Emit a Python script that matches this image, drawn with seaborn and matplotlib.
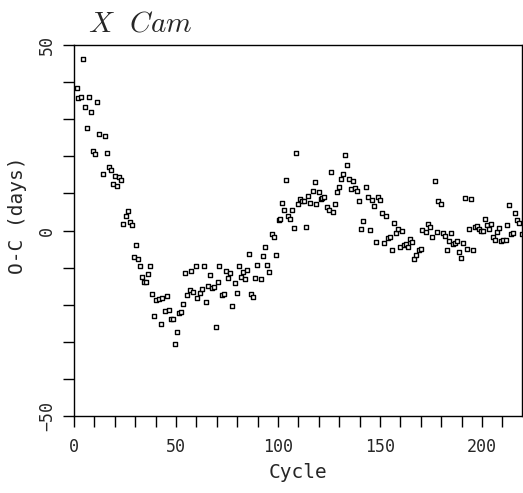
import numpy as np
import matplotlib
matplotlib.use('Agg')
import matplotlib.pyplot as plt
import seaborn as sns
from matplotlib.ticker import MultipleLocator

# O-C values
cycle = [1.3, 2.1, 3.4, 4.6, 5.2, 6.4, 7.5, 8.3, 9.3, 10.3, 11.4, 12.3, 14.2, 15.3, 16.3,
         17.3, 18.3, 19.3, 20.3, 21.2, 22.2, 23.2, 24.2, 25.3, 26.5, 27.5, 28.4,
         29.4, 30.4, 31.4, 32.4, 33.3, 34.3, 35.4, 36.3, 37.4, 38.4, 39.4, 40.3, 41.5,
         42.5, 43.3, 44.6, 45.4, 46.4, 47.5, 48.7, 49.4, 50.3, 51.5, 52.3, 53.6, 54.6,
         55.5, 56.7, 57.5, 58.5, 59.6, 60.4, 61.8, 62.7, 63.7, 64.7, 65.7, 66.6, 67.6,
         68.5, 69.6, 70.6, 70.9,
         72.4, 73.5, 74.7, 75.6, 76.6, 77.6, 78.8, 79.8, 80.7, 81.7, 82.7, 83.7, 84.6,
         85.6, 86.8, 87.6, 88.7, 89.9, 91.8, 92.8, 93.8, 94.8, 95.7, 96.9, 97.9, 98.9,
         100.3, 101.0, 101.8, 102.9, 104.1, 104.9, 105.9, 106.9, 108.0, 109.0, 109.9,
         110.9, 111.9, 112.9, 113.9, 114.9, 115.8, 117.0, 118.0, 118.8, 119.9, 120.9,
         121.7, 122.7, 123.9, 124.9, 126.0, 126.8, 127.9, 128.8, 129.9, 131.0, 131.9,
         133.0, 134.0, 134.9, 135.8, 136.9, 137.7, 138.6, 139.6,
         140.8, 141.7, 143.0, 144.1, 144.9, 146.1, 146.9, 147.9, 148.9, 150.0, 150.8,
         151.8, 152.9, 154.1, 154.9, 155.9, 156.9, 157.7, 158.8, 159.8, 160.8, 161.8,
         162.7, 163.7, 164.7, 165.7, 166.7, 167.8, 169.0, 170.0, 170.8, 172.7, 173.7,
         174.7, 175.6, 176.8, 177.8, 178.4, 179.7, 180.7, 181.7, 182.7, 183.7, 184.7,
         185.6, 186.6, 187.6, 188.6, 189.6, 190.5, 191.7, 192.5, 193.5, 194.6, 195.4,
         196.7, 197.5, 198.7, 199.7, 200.6, 201.5, 202.5, 203.3, 204.4, 205.2, 206.4,
         207.2, 208.3, 209.5, 210.5, 211.6, 212.3, 213.4, 214.2, 215.3, 216.3, 217.3,
         218.3, 219.5]
oc = [38.5, 35.6, 36.0, 46.2, 33.4, 27.5, 35.9, 32.0, 21.3, 20.5, 34.7, 25.9, 15.3, 25.6, 20.8,
      17.1, 16.3, 12.5, 14.8, 12.1, 14.3, 13.5, 1.8, 3.9, 5.2, 2.3, 1.6,
      -7.1, -3.8, -7.8, -9.6, -12.4, -14.0, -13.9, -11.6, -9.5, -17.1, -23.0, -18.7, -18.5,
      -25.3, -18.1, -21.7, -17.7, -21.3, -23.9, -23.8, -30.6, -27.4, -22.2, -22.0, -19.8, -11.5,
      -17.3, -16.1, -10.9, -16.6, -9.5, -18.2, -16.9, -15.8, -9.5, -19.2, -15.0, -11.9, -15.6,
      -15.3, -26.0, -13.9, -9.7,
      -17.3, -17.1, -11.0, -12.7, -11.5, -20.3, -14.1, -16.8, -9.7, -12.5, -11.2, -13.0, -10.7,
      -6.4, -17.1, -17.8, -12.8, -9.4, -13.2, -6.9, -4.5, -9.4, -11.2, -0.9, -1.7, -6.5,
      2.9, 3.0, 7.3, 5.5, 13.7, 4.0, 3.2, 5.4, 0.7, 20.9, 7.1,
      8.5, 7.9, 8.0, 1.0, 9.3, 7.5, 10.6, 13.0, 7.2, 10.4, 8.5,
      8.8, 9.1, 6.3, 5.5, 15.7, 5.0, 7.2, 10.5, 11.7, 14.0, 15.2,
      20.4, 17.7, 13.9, 11.1, 13.3, 11.5, 10.6, 8.0,
      0.3, 2.6, 11.6, 8.9, 0.2, 8.3, 6.6, -3.2, 9.0, 8.3, 4.6,
      -3.3, 3.9, -1.9, -1.7, -5.3, 1.9, -0.8, 0.3, -4.4, -0.1, -3.8,
      -3.7, -4.4, -2.2, -3.0, -7.8, -6.6, -5.2, -5.1, 0.1, -0.4, 1.7,
      0.9, -1.8, 13.4, -0.3, 7.9, 7.1, -0.6, -1.4, -5.3, -2.9, -0.8,
      -3.6, -3.5, -2.9, -5.9, -7.5, -3.5, 8.8, -4.9, 0.3, 8.5, -5.3,
      0.9, 1.2, 0.4, -0.2, -0.05, 3.1, 1.4, 0.5, 1.8, -1.8, -2.6,
      -0.5, 0.8, -2.9, -2.6, -2.6, 1.6, 6.9, -0.9, -0.8, 4.6, 2.7,
      1.9, -0.9]

sns.set_style('white')
plt.rcParams['font.family'] = ['DejaVu Sans Mono']

fig = plt.figure(figsize=(5.23, 4.93), dpi=100)
ax = fig.add_axes([74 / 523, 77 / 493, 448 / 523, 371 / 493])

sns.scatterplot(x=cycle, y=oc, marker='s', s=12, color='white',
                edgecolor='black', linewidth=1.0, ax=ax)

ax.set_xlim(0, 219.6)
ax.set_ylim(-50, 50)
ax.xaxis.set_major_locator(MultipleLocator(50))
ax.xaxis.set_minor_locator(MultipleLocator(10))
ax.yaxis.set_major_locator(MultipleLocator(50))
ax.yaxis.set_minor_locator(MultipleLocator(10))
ax.tick_params(which='both', direction='out', length=8, width=1, color='black',
               bottom=True, left=True, top=False, right=False)
ax.tick_params(axis='x', labelsize=12, pad=8)
ax.tick_params(axis='y', labelsize=12, pad=5, labelrotation=90)
for lab in ax.get_yticklabels():
    lab.set_va('center')
for sp in ax.spines.values():
    sp.set_color('black')
    sp.set_linewidth(1)

ax.set_xlabel('Cycle', fontsize=14, labelpad=5)
ax.set_ylabel('O-C (days)', fontsize=14, labelpad=8)
ax.yaxis.set_label_coords(-0.105, 0.54)

fig.text(88 / 523, 0.937, r'$X\ \ Cam$', fontsize=21, math_fontfamily='cm',
         ha='left', va='baseline')

fig.savefig('out.png', dpi=100)
